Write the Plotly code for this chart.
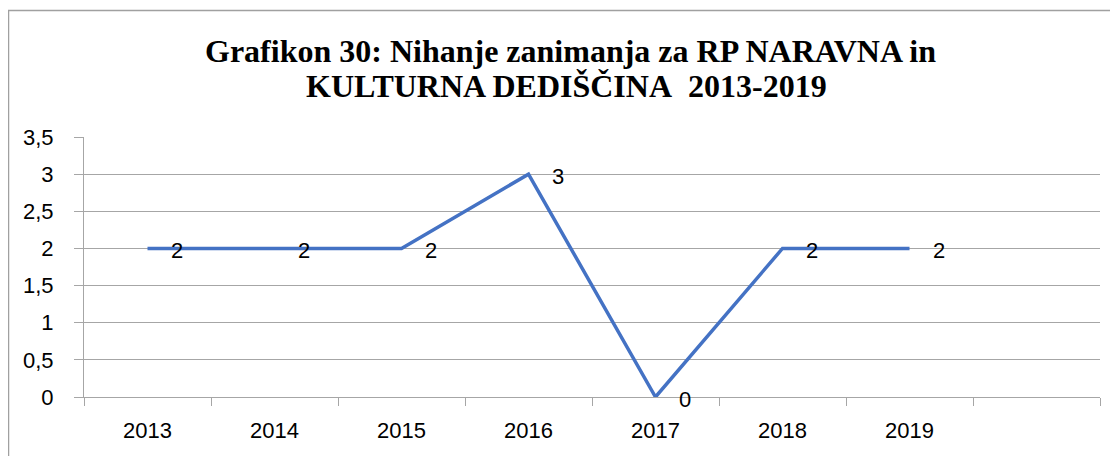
import plotly.graph_objects as go

years = ["2013", "2014", "2015", "2016", "2017", "2018", "2019"]
values = [2, 2, 2, 3, 0, 2, 2]
all_categories = years + [" "]
y_ticks = [0, 0.5, 1, 1.5, 2, 2.5, 3, 3.5]
title_line1 = "Grafikon 30: Nihanje zanimanja za RP NARAVNA in"
title_line2 = "KULTURNA DEDIŠČINA\u00a0 2013-2019"

OFF = 8  # page body margin
W, H = 1118 - OFF, 456 - OFF
L, R = 84 - OFF, W - (1100 - OFF)
T, B = 137 - OFF, H - (397 - OFF)
pw, ph = W - L - R, H - T - B

def px_x(p):
    return (p - OFF - L) / pw

def px_y(p):
    return (H - B - (p - OFF)) / ph

label_font = dict(family="Liberation Sans, Arial, sans-serif", size=22, color="#000000")
grid = "#a6a6a6"

fig = go.Figure()
fig.add_trace(go.Scatter(
    x=years, y=values, mode="lines",
    line=dict(color="#4472C4", width=3.5),
    showlegend=False, hoverinfo="skip",
))

annotations = []
for i, v in enumerate(values):
    annotations.append(dict(
        x=i, y=v, xref="x", yref="y", text=str(v), showarrow=False,
        xshift=29, yshift=-2, font=label_font,
        xanchor="center", yanchor="middle",
    ))

title_font = dict(family="Liberation Serif, Times New Roman, serif", size=32, color="#000000")
annotations.append(dict(
    x=px_x(570), y=px_y(51), xref="paper", yref="paper",
    text="<b>" + title_line1 + "</b>", showarrow=False, font=title_font,
    xanchor="center", yanchor="middle",
))
annotations.append(dict(
    x=px_x(566), y=px_y(86), xref="paper", yref="paper",
    text="<b>" + title_line2 + "</b>", showarrow=False, font=title_font,
    xanchor="center", yanchor="middle",
))

fig.update_layout(
    width=W, height=H,
    margin=dict(l=L, r=R, t=T, b=B, pad=0),
    paper_bgcolor="#ffffff", plot_bgcolor="#ffffff",
    separators=", ",
    annotations=annotations,
    shapes=[dict(
        type="rect", xref="paper", yref="paper",
        x0=px_x(8.5), x1=px_x(1140), y0=px_y(480), y1=px_y(10.5),
        line=dict(color="#a0a0a0", width=1.5), fillcolor="rgba(0,0,0,0)",
        layer="below",
    )],
    xaxis=dict(
        type="category", categoryorder="array", categoryarray=all_categories,
        range=[-0.5, len(all_categories) - 0.5],
        tickson="boundaries", ticks="outside", ticklen=8, tickcolor=grid, tickwidth=1,
        showline=True, linecolor=grid, linewidth=1,
        showgrid=False, zeroline=False,
        tickfont=label_font, ticklabelstandoff=14,
        fixedrange=True,
    ),
    yaxis=dict(
        range=[0, 3.5], tickvals=y_ticks,
        ticks="outside", ticklen=9, tickcolor=grid, tickwidth=1,
        showline=True, linecolor=grid, linewidth=1,
        showgrid=True, gridcolor=grid, gridwidth=1, zeroline=False,
        tickfont=label_font, ticklabelstandoff=16,
        fixedrange=True,
    ),
)

fig.write_html("out.html")
